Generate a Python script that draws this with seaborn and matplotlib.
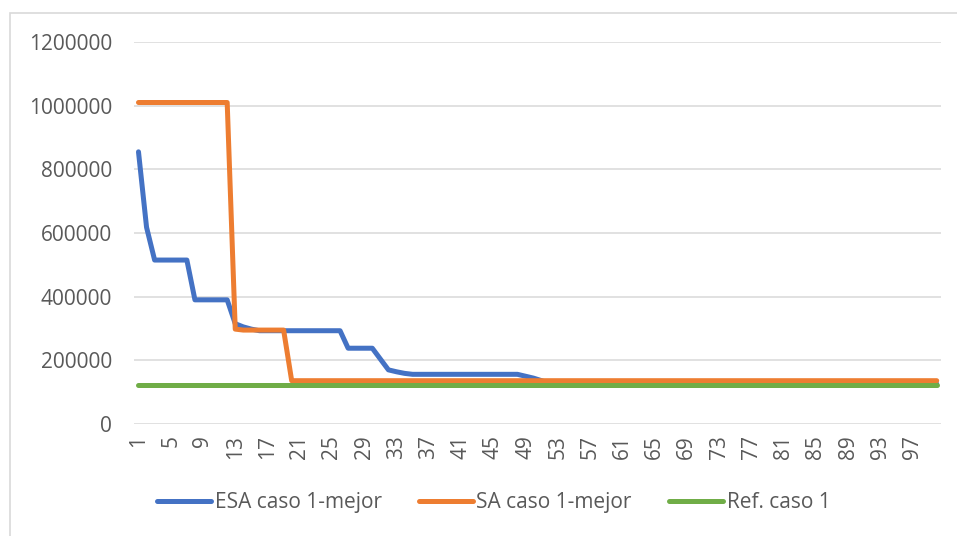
import pandas as pd
import matplotlib.pyplot as plt
import matplotlib.patches as mpatches
from matplotlib.lines import Line2D
import seaborn as sns

# --- DATA ---
iterations = list(range(1, 101))

esa_values = ([855000, 618000] + [515000] * 5 + [390000] * 5 +
              [315000, 305000, 298000] + [293000] * 11 +
              [238000] * 4 + [204000, 170000, 164000, 159000] +
              [156000] * 14 + [150000, 144000, 136000] + [126000] * 49)
sa_values = [1010000] * 12 + [298000] + [295000] * 6 + [136000] * 81
ref_values = [124000] * 100

series_names = ['ESA caso 1-mejor', 'SA caso 1-mejor', 'Ref. caso 1']
colors = ['#4472C4', '#ED7D31', '#70AD47']

df = pd.DataFrame({
    'Iteracion': iterations * 3,
    'Valor': esa_values + sa_values + ref_values,
    'Serie': [series_names[0]] * 100 + [series_names[1]] * 100 + [series_names[2]] * 100,
})

sns.set_style("white")
plt.rcParams['font.family'] = ['Open Sans', 'DejaVu Sans']
TEXT = '#595959'
GRID = '#D9D9D9'

fig = plt.figure(figsize=(9.57, 5.36), dpi=100)
ax = fig.add_axes([0.1405, 0.209, 0.8425, 0.7126])

sns.lineplot(data=df, x='Iteracion', y='Valor', hue='Serie', palette=colors,
             hue_order=series_names, linewidth=3.6, legend=False, ax=ax,
             solid_capstyle='round', solid_joinstyle='round')

ax.set_xlim(0.5, 100.5)
ax.set_ylim(0, 1200000)
ax.set_yticks(range(0, 1200001, 200000))
ax.set_yticklabels([str(v) for v in range(0, 1200001, 200000)])
ax.set_xticks(iterations[::4])
ax.set_xticklabels([str(v) for v in iterations[::4]], rotation=90)
ax.grid(axis='y', color=GRID, linewidth=1.1)
ax.set_axisbelow(True)
for s in ax.spines.values():
    s.set_visible(False)
ax.tick_params(axis='both', length=0, labelsize=15, labelcolor=TEXT)
ax.tick_params(axis='y', pad=16)
ax.tick_params(axis='x', pad=8)
ax.set_xlabel('')
ax.set_ylabel('')

handles = [Line2D([0], [0], color=c, linewidth=3.6, solid_capstyle='round') for c in colors]
fig.legend(handles, series_names, loc='center', bbox_to_anchor=(0.516, 0.062), ncol=3,
           frameon=False, fontsize=15, labelcolor=TEXT, handlelength=2.6,
           handletextpad=0.15, columnspacing=1.8)

# chart area border (cropped on the right and bottom)
fig.patches.append(mpatches.Rectangle((10 / 957, -0.1), 1.2, 1 - 13 / 536 + 0.1,
                                      transform=fig.transFigure, fill=False,
                                      edgecolor=GRID, linewidth=1.2))

fig.savefig('out.png', dpi=100)
